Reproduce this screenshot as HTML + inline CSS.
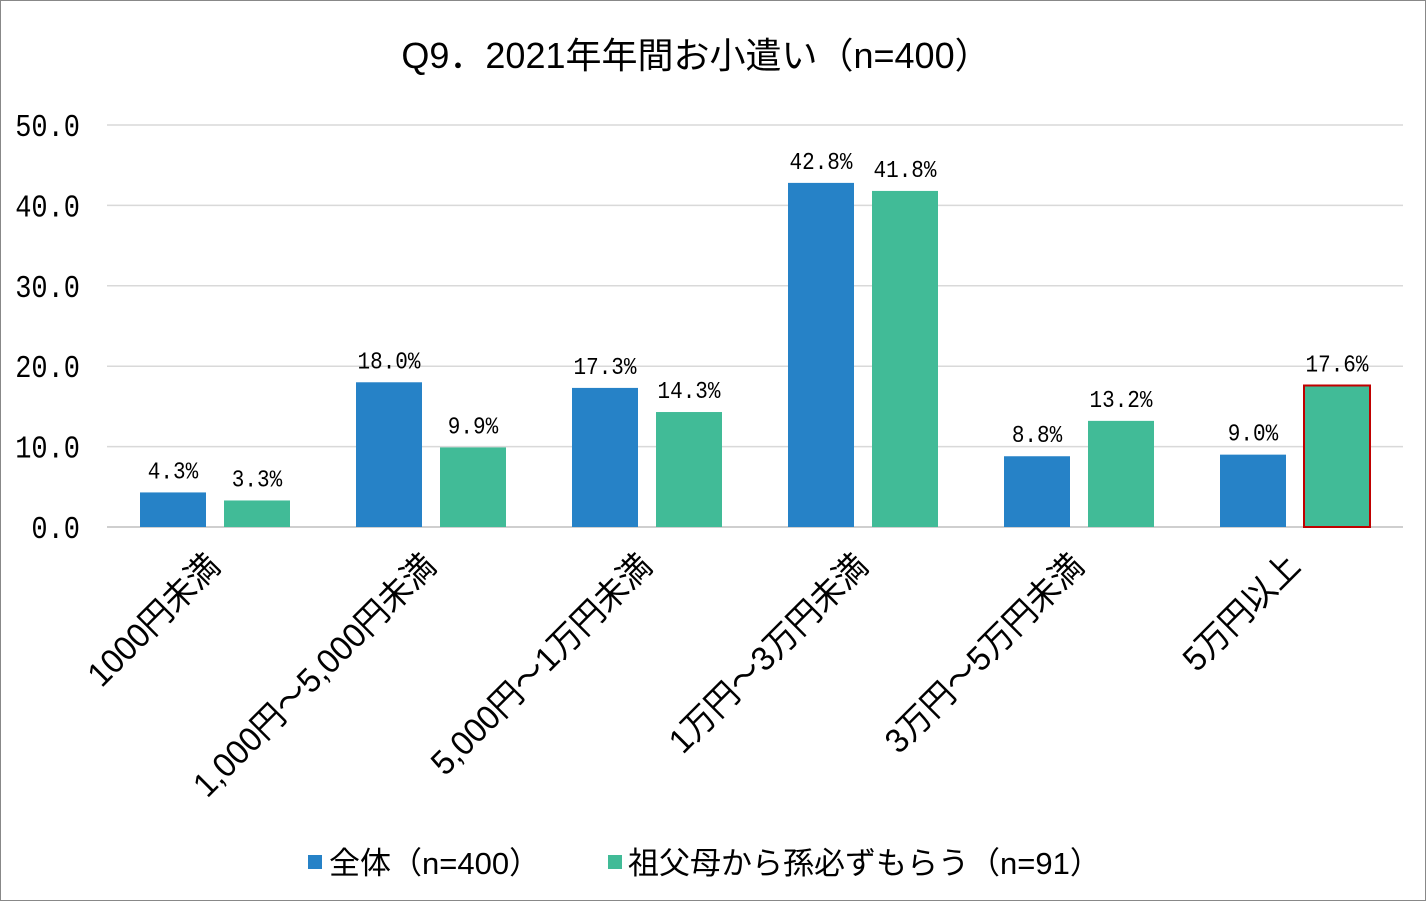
<!DOCTYPE html>
<html><head><meta charset="utf-8">
<style>
body{margin:0;background:#fff;}
#c{position:relative;width:1426px;height:901px;overflow:hidden;}
svg text{font-family:"Liberation Sans","Noto Sans CJK JP",sans-serif;}
svg text.m{font-family:"Liberation Mono","Noto Sans CJK JP",monospace;}
</style></head>
<body>
<div id="c">
<svg id="s" width="1426" height="901" xmlns="http://www.w3.org/2000/svg">
<rect x="0.5" y="0.5" width="1425" height="900" fill="#fff" stroke="#888"/>
<text x="696" y="68" text-anchor="middle" font-size="36" fill="#000">Q9．2021年年間お小遣い（n=400）</text>
<g id="grid"></g><g id="bars"></g><g id="labels"></g>
<g>
<rect x="308" y="855" width="14" height="14" fill="#2682C7"/>
<text x="329" y="874" font-size="31">全体（n=400）</text>
<rect x="608" y="855" width="14" height="14" fill="#41BB97"/>
<text x="628" y="874" font-size="31">祖父母から孫必ずもらう（n=91）</text>
</g>
</svg>
</div>
<script>
const categories=["1000円未満","1,000円～5,000円未満","5,000円～1万円未満","1万円～3万円未満","3万円～5万円未満","5万円以上"];
const seriesAll=[4.3,18.0,17.3,42.8,8.8,9.0];
const seriesGrand=[3.3,9.9,14.3,41.8,13.2,17.6];
const yTicks=[0,10,20,30,40,50];
const NS="http://www.w3.org/2000/svg";
const X0=107,X1=1403,Y0=527,Y1=125,YMAX=50;
const y=v=>Y0-(v/YMAX)*(Y0-Y1);
const bw=(X1-X0)/categories.length;
const xc=i=>X0+bw*(i+0.5);
function mk(tag,attrs,parent){const e=document.createElementNS(NS,tag);for(const k in attrs)e.setAttribute(k,attrs[k]);parent.appendChild(e);return e;}
const grid=document.getElementById('grid'),bars=document.getElementById('bars'),labels=document.getElementById('labels');
yTicks.forEach(t=>{
  const l=mk('line',{x1:X0,x2:X1,y1:y(t),y2:y(t),stroke:t===0?'#bfbfbf':'#d9d9d9','stroke-width':1.5},grid);
  
  
  const tx=mk('text',{class:'m',x:80,y:y(t)+11,'text-anchor':'end','font-size':27,transform:`translate(0,${y(t)+11}) scale(1,1.15) translate(0,${-(y(t)+11)})`},grid);
  tx.textContent=t.toFixed(1);
  
  
});
categories.forEach((c,i)=>{
  const cx=xc(i);
  [[seriesAll,'#2682C7',-75,'all'],[seriesGrand,'#41BB97',9,'grandparents']].forEach(([arr,col,off,nm])=>{
    const v=arr[i];
    const isHi=(nm==='grandparents'&&i===categories.length-1);
    const r=mk('rect',{x:cx+off,y:y(v),width:66,height:Y0-y(v),fill:col},bars);
    if(isHi){r.setAttribute('stroke','#C00000');r.setAttribute('stroke-width','2');}
    
    
    const lx=cx+off+33, ly=y(v)-14;
    const t=mk('text',{class:'m',x:lx,y:ly,'text-anchor':'middle','font-size':21,transform:`translate(0,${ly}) scale(1,1.15) translate(0,${-ly})`},labels);
    t.textContent=v.toFixed(1)+'%';
    
    
  });
  const ax=cx+7,ay=568;
  const ct=mk('text',{x:0,y:0,'text-anchor':'end','font-size':34,transform:`translate(${ax},${ay}) rotate(-45) scale(0.96,1)`},labels);
  ct.textContent=c;
  
  
});
</script>
</body></html>
